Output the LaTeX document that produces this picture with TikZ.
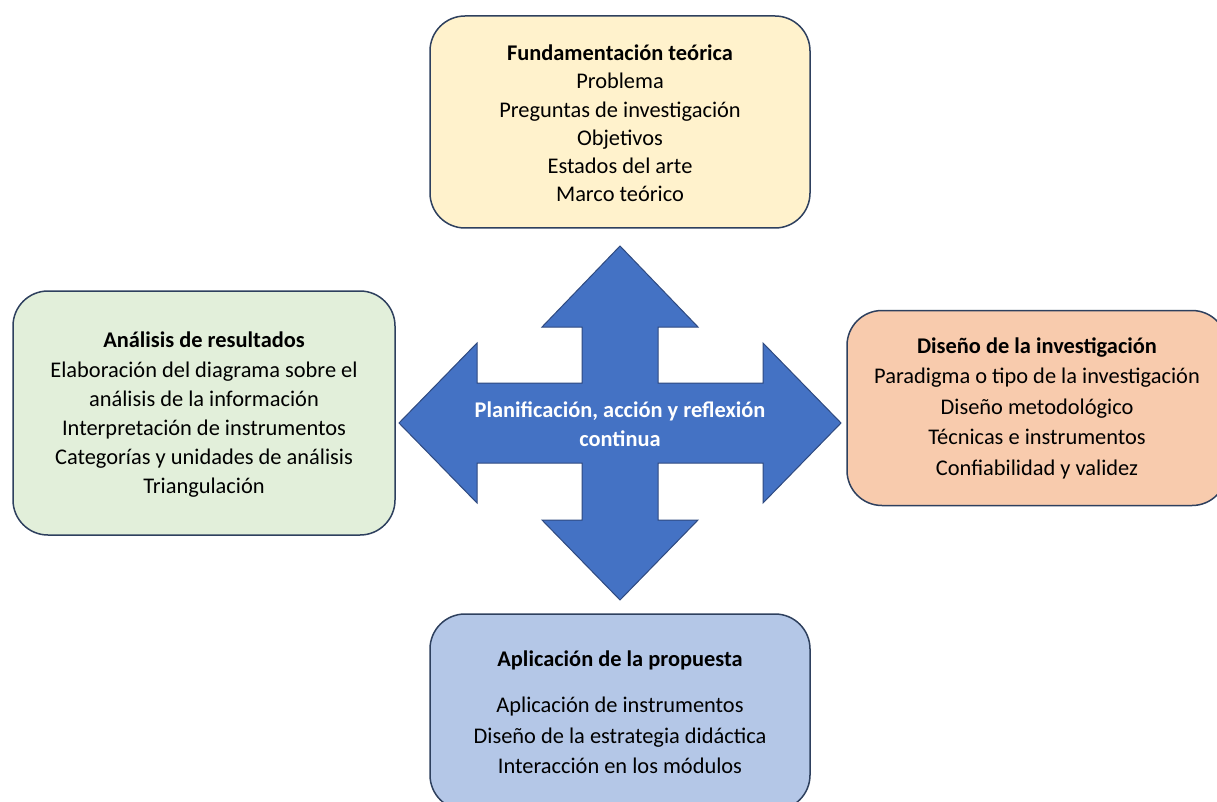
\documentclass[tikz,border=0pt]{standalone}
\usepackage{fontspec}
\setmainfont{Carlito}
\usepackage{xcolor}
\definecolor{boxline}{HTML}{2E405E}
\definecolor{arrowfill}{HTML}{4472C4}
\definecolor{arrowline}{HTML}{2F4A80}
\definecolor{yellowbox}{HTML}{FFF2CC}
\definecolor{greenbox}{HTML}{E2EFDA}
\definecolor{peachbox}{HTML}{F8CBAD}
\definecolor{bluebox}{HTML}{B4C7E7}
\tikzstyle{block}=[draw=boxline, line width=1.5pt, rounded corners=35pt, align=center,
  inner sep=0pt, minimum width=380pt, font=\fontsize{22.4}{28.5}\selectfont]

\begin{document}
\begin{tikzpicture}[x=1pt, y=-1pt]
  \clip (0,0) rectangle (1217,802);
  \fill[white] (0,0) rectangle (1217,802);

  % cross arrow in the middle
  \draw[fill=arrowfill, draw=arrowline, line width=1pt, line join=miter]
    (620,246) -- (698,327) -- (658,327) -- (658,383) -- (763,383) -- (763,343)
    -- (841,423) -- (763,503) -- (763,463) -- (658,463) -- (658,520) -- (698,520)
    -- (620,600) -- (542,520) -- (582,520) -- (582,463) -- (477,463) -- (477,503)
    -- (399,423) -- (477,343) -- (477,383) -- (582,383) -- (582,327) -- (542,327) -- cycle;
  \node[text=white, align=center, font=\bfseries\fontsize{22.4}{29}\selectfont]
    (centre) at (620,424) {Planificación, acción y reflexión\\continua};

  \node[block, fill=yellowbox, minimum height=212pt] (fundamento) at (620,122) {};
  \node[align=center, font=\fontsize{22.4}{28.2}\selectfont] (fundtext) at (620,123.5)
    {\textbf{Fundamentación teórica}\\Problema\\Preguntas de investigación\\Objetivos\\Estados del arte\\Marco teórico};
  \node[block, fill=greenbox, minimum width=382pt, minimum height=244pt] (analisis) at (204,413) {};
  \node[align=center, font=\fontsize{22.4}{29.2}\selectfont] (analtext) at (204,415)
    {\textbf{Análisis de resultados}\\Elaboración del diagrama sobre el\\análisis de la información\\Interpretación de instrumentos\\Categorías y unidades de análisis\\Triangulación};
  \node[block, fill=peachbox, minimum height=195pt, font=\fontsize{22.4}{30.5}\selectfont] (diseno) at (1037,408)
    {\textbf{Diseño de la investigación}\\Paradigma o tipo de la investigación\\Diseño metodológico\\Técnicas e instrumentos\\Confiabilidad y validez};
  \node[block, fill=bluebox, minimum height=196pt, font=\fontsize{22.4}{30.5}\selectfont] (aplicacion) at (620,712)
    {\textbf{Aplicación de la propuesta}\\[16pt]Aplicación de instrumentos\\Diseño de la estrategia didáctica\\Interacción en los módulos};
\end{tikzpicture}
\end{document}
